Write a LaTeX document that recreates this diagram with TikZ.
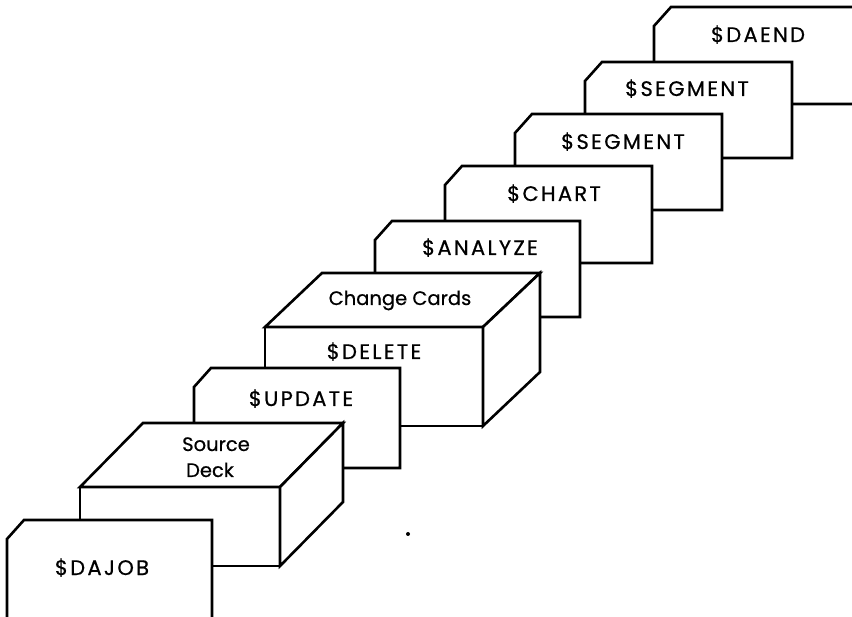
\documentclass[tikz,border=0pt]{standalone}
\usepackage{fontspec}
\newfontfamily\cardfont{Poppins}[FakeBold=0.6]
\newfontfamily\capfont{Poppins}[LetterSpace=11,FakeBold=0.6]
\tikzset{
  cardshape/.style={draw=black, fill=white, line width=2.6pt, line join=miter},
  lbl/.style={font=\capfont\fontsize{21}{24}\selectfont, inner sep=0pt, anchor=base},
  lowlbl/.style={font=\cardfont\fontsize{19.5}{22}\selectfont, inner sep=0pt, anchor=base}
}
% card: left, top, right, bottom
\newcommand\deckcard[4]{%
  \path[cardshape] (#1,#2+19) -- (#1+17,#2) -- (#3,#2) -- (#3,#4) -- (#1,#4) -- cycle;}
% box: front-left, front-top, front-right, front-bottom, dx, dy
\newcommand\deckbox[6]{%
  \path[cardshape] (#1,#2) -- (#3,#2) -- (#3,#4) -- (#1,#4) -- cycle;
  \path[cardshape] (#1,#2) -- (#1+#5,#2-#6) -- (#3+#5,#2-#6) -- (#3,#2) -- cycle;
  \path[cardshape] (#3,#2) -- (#3+#5,#2-#6) -- (#3+#5,#4-#6) -- (#3,#4) -- cycle;}
\begin{document}
\begin{tikzpicture}[x=1pt,y=-1pt]
\useasboundingbox (0,0) rectangle (852,617);
\clip (0,0) rectangle (852,617);
\fill[white] (0,0) rectangle (852,617);
% back to front
\deckcard{654}{7}{875}{104}
\node[lbl] (daend) at (758,42) {\$DAEND};
\deckcard{585}{62}{792}{158}
\node[lbl] (seg2) at (687,96) {\$SEGMENT};
\deckcard{515}{114}{722}{210}
\node[lbl] (seg1) at (623,149) {\$SEGMENT};
\deckcard{445}{166}{652}{263}
\node[lbl] (chart) at (554,201) {\$CHART};
\deckcard{375}{221}{580}{317}
\node[lbl] (analyze) at (480,255) {\$ANALYZE};
\deckbox{265}{327}{483}{426}{57}{54}
\node[lowlbl] (change) at (400,305) {Change Cards};
\node[lbl] (delete) at (374,359) {\$DELETE};
\deckcard{194}{368}{400}{468}
\node[lbl] (update) at (301,406) {\$UPDATE};
\deckbox{80}{487}{280}{566}{63}{64}
\node[lowlbl] (source) at (216,451) {Source};
\node[lowlbl] (deck) at (210,477) {Deck};
\deckcard{7}{520}{212}{650}
\node[lbl] (dajob) at (102,575) {\$DAJOB};
\node[circle, fill=black, inner sep=0pt, minimum size=4pt] (dot) at (408,534) {};
\end{tikzpicture}
\end{document}
